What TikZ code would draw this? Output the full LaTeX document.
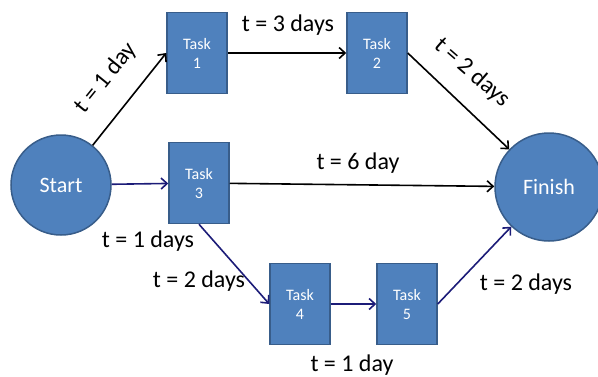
\documentclass[tikz,border=0pt]{standalone}
\usepackage{fontspec}
\setmainfont{Carlito}
\usepackage{tikz}
\usetikzlibrary{positioning,arrows,arrows.meta,shapes}

\definecolor{taskblue}{RGB}{79,129,189}
\definecolor{taskedge}{RGB}{56,93,138}
\definecolor{pathnavy}{RGB}{28,28,120}

\begin{document}
\begin{tikzpicture}[
  x=1pt, y=-1pt,
  task/.style={rectangle, draw=taskedge, fill=taskblue, line width=1.5pt, minimum width=60pt, minimum height=81pt, align=center, text=white, font=\fontsize{16}{19}\selectfont},
  endpt/.style={circle, draw=taskedge, fill=taskblue, line width=1.5pt, text=white, font=\fontsize{22}{26}\selectfont},
  lbl/.style={font=\fontsize{24}{28}\selectfont, inner sep=0pt},
  arrow/.style={-{Straight Barb[length=6pt,width=11pt]}, line width=1.6pt},
  navyarrow/.style={arrow, draw=pathnavy}
]
\useasboundingbox (0,0) rectangle (598,376);

% Start and finish
\node[endpt, minimum size=100pt] (start) at (61,185) {Start};
\node[endpt, minimum size=108pt] (finish) at (549,187) {Finish};

% Top row
\node[task] (t1) at (197,53) {Task\\1};
\node[task] (t2) at (377,53) {Task\\2};

% Middle row
\node[task] (t3) at (199,183) {Task\\3};

% Bottom row
\node[task] (t4) at (300,304) {Task\\4};
\node[task] (t5) at (407,304) {Task\\5};

% Arrows
\draw[arrow] (start) -- (t1.west);
\draw[arrow] (t1) -- (t2);
\draw[arrow] (t2.east) -- (finish);
\draw[navyarrow] (start) -- (t3);
\draw[arrow] (t3) -- (finish);
\draw[navyarrow] (t3.south) -- (t4.west);
\draw[navyarrow] (t4) -- (t5);
\draw[navyarrow] (t5.east) -- (finish);

% Durations
\node[lbl, rotate=51] (d1) at (106,78) {t = 1 day};
\node[lbl] (d2) at (288,25) {t = 3 days};
\node[lbl, rotate=-41] (d3) at (472,73) {t = 2 days};
\node[lbl] (d4) at (358,163) {t = 6 day};
\node[lbl] (d5) at (148,241) {t = 1 days};
\node[lbl] (d6) at (199,281) {t = 2 days};
\node[lbl] (d7) at (526,284) {t = 2 days};
\node[lbl] (d8) at (352,365) {t = 1 day};

\end{tikzpicture}
\end{document}
